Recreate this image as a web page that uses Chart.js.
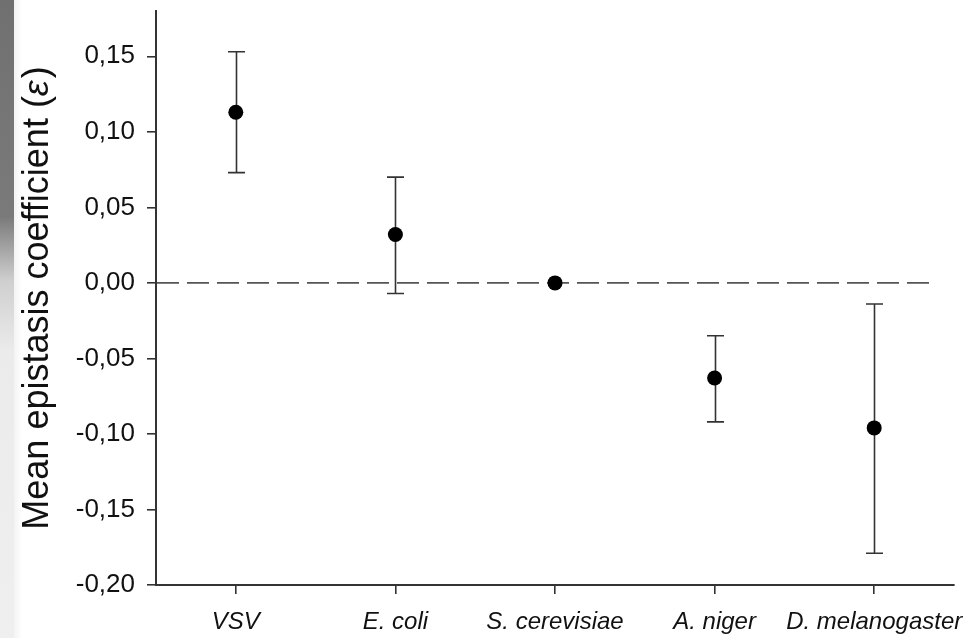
<!DOCTYPE html>
<html>
<head>
<meta charset="utf-8">
<script src="https://cdn.jsdelivr.net/npm/chart.js@4"></script>
<style>
  html, body { margin: 0; padding: 0; background: #fff; }
  #wrap { position: relative; width: 980px; height: 638px; }
  #edge {
    position: absolute; left: 0; top: 0; width: 14px; height: 638px;
    background: linear-gradient(to bottom, #707070 0%, #7a7a7a 34%, #cfcfcf 44%, #ebebeb 55%, #efefef 100%);
  }
  #edge2 {
    position: absolute; left: 14px; top: 0; width: 8px; height: 638px;
    background: linear-gradient(to right, #f3f3f3, #fff);
  }
  canvas { position: absolute; left: 0; top: 0; }
</style>
</head>
<body>
<div id="wrap">
  <div id="edge"></div>
  <div id="edge2"></div>
  <canvas id="grafico" width="980" height="638"></canvas>
</div>
<script>
// datos
const especies = ["VSV", "E. coli", "S. cerevisiae", "A. niger", "D. melanogaster"];
const medias = [0.113, 0.032, 0.000, -0.063, -0.096];
const limiteSup = [0.153, 0.070, 0.000, -0.035, -0.014];
const limiteInf = [0.073, -0.007, 0.000, -0.092, -0.179];
const marcasY = [-0.20, -0.15, -0.10, -0.05, 0.00, 0.05, 0.10, 0.15];

const fuente = "'Liberation Sans', Arial, sans-serif";

// barras de error y linea de cero
const barrasError = {
  id: "barrasError",
  beforeDatasetsDraw(chart) {
    const { ctx, chartArea, scales: { x, y } } = chart;
    const y0 = y.getPixelForValue(0);
    ctx.save();
    ctx.strokeStyle = "#555";
    ctx.lineWidth = 1.6;
    ctx.setLineDash([22, 8]);
    ctx.beginPath();
    ctx.moveTo(chartArea.left + 1, y0);
    ctx.lineTo(chartArea.right - 20, y0);
    ctx.stroke();
    ctx.setLineDash([]);

    ctx.strokeStyle = "#333";
    ctx.lineWidth = 1.6;
    especies.forEach((e, i) => {
      if (limiteSup[i] === limiteInf[i]) return;
      const px = Math.round(x.getPixelForValue(i)) + 0.5;
      const pTop = y.getPixelForValue(limiteSup[i]);
      const pBot = y.getPixelForValue(limiteInf[i]);
      ctx.beginPath();
      ctx.moveTo(px, pTop);
      ctx.lineTo(px, pBot);
      ctx.moveTo(px - 8.5, pTop);
      ctx.lineTo(px + 8.5, pTop);
      ctx.moveTo(px - 8.5, pBot);
      ctx.lineTo(px + 8.5, pBot);
      ctx.stroke();
    });
    ctx.restore();
  }
};

// titulo del eje Y con epsilon en cursiva
const tituloY = {
  id: "tituloY",
  afterDraw(chart) {
    const { ctx, chartArea } = chart;
    const parte1 = "Mean epistasis coefficient (";
    const eps = "\u03B5";
    const parte2 = ")";
    ctx.save();
    ctx.fillStyle = "#111";
    ctx.textBaseline = "middle";
    const fNormal = "36px " + fuente;
    const fItal = "italic 36px " + fuente;
    ctx.font = fNormal;
    const w1 = ctx.measureText(parte1).width;
    const w3 = ctx.measureText(parte2).width;
    ctx.font = fItal;
    const w2 = ctx.measureText(eps).width + 2;
    const total = w1 + w2 + w3;
    const cy = (chartArea.top + chartArea.bottom) / 2;
    ctx.translate(38, cy);
    ctx.rotate(-Math.PI / 2);
    let xx = -total / 2;
    ctx.textAlign = "left";
    ctx.font = fNormal;
    ctx.fillText(parte1, xx, 0);
    xx += w1;
    ctx.font = fItal;
    ctx.fillText(eps, xx, 0);
    xx += w2;
    ctx.font = fNormal;
    ctx.fillText(parte2, xx, 0);
    ctx.restore();
  }
};

new Chart(document.getElementById("grafico"), {
  type: "line",
  data: {
    labels: especies,
    datasets: [{
      data: medias,
      showLine: false,
      pointRadius: 7.5,
      pointHoverRadius: 7.5,
      pointBackgroundColor: "#000",
      pointBorderColor: "#000",
      pointBorderWidth: 0
    }]
  },
  options: {
    responsive: false,
    animation: false,
    events: [],
    layout: { autoPadding: false, padding: { left: 0, right: 26, top: 11, bottom: 0 } },
    plugins: { legend: { display: false }, tooltip: { enabled: false } },
    scales: {
      x: {
        type: "category",
        offset: true,
        grid: { offset: false, drawOnChartArea: false, drawTicks: true, tickLength: 9, color: "#333", lineWidth: 1.6 },
        border: { color: "#333", width: 2 },
        ticks: { color: "#111", padding: 14, maxRotation: 0, autoSkip: false, font: { family: fuente, size: 24, style: "italic" } },
        afterFit(scale) { scale.height = 53; }
      },
      y: {
        min: -0.20,
        max: 0.18,
        afterBuildTicks(axis) { axis.ticks = marcasY.map(v => ({ value: v })); },
        grid: { drawOnChartArea: false, drawTicks: true, tickLength: 9, color: "#333", lineWidth: 1.6 },
        border: { color: "#333", width: 2 },
        ticks: {
          color: "#111",
          padding: 12,
          font: { family: fuente, size: 26 },
          callback: v => v.toFixed(2).replace(".", ",")
        },
        afterFit(scale) {
          scale.width = 156;
          scale.paddingTop = 0;
          scale.paddingBottom = 0;
        }
      }
    }
  },
  plugins: [barrasError, tituloY]
});
</script>
</body>
</html>
